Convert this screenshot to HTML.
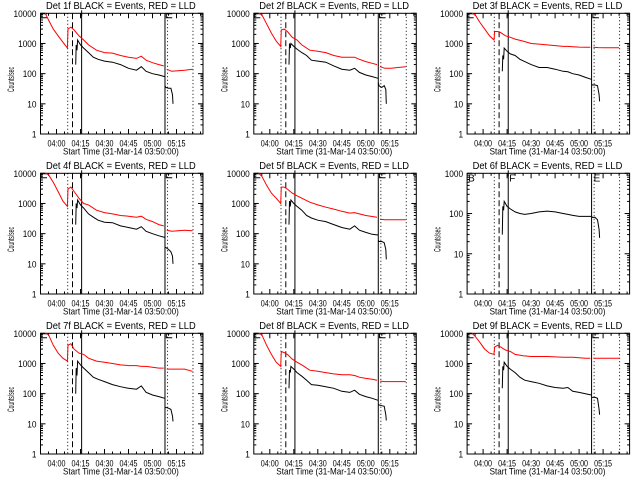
<!DOCTYPE html>
<html><head><meta charset="utf-8"><style>
html,body{margin:0;padding:0;background:#fff;}
svg{display:block;font-family:"Liberation Sans",sans-serif;}
</style></head><body>
<svg id="chart" width="640" height="480" viewBox="0 0 640 480" xmlns="http://www.w3.org/2000/svg"></svg>
<script>
// minutes after 03:50 (null = data gap)
const redTimes = [3,5,8,11,14,16.8,17.2,19,21,24,27,30,35,40,45,50,55,60,63,66,70,74,77,null,78.9,82,86,90,95];
const blackTimes = [22,22.3,22.8,23.2,25,27,30,33,36,40,45,50,55,60,63,66,70,74,77.6,null,77.9,78.2,80,81.5,82.5,82.8];
const detNames = ["1f","2f","3f","4f","5f","6f","7f","8f","9f"];
const red1 = [10000,6000,3000,1800,1100,700,3000,3500,2800,1800,1300,900,600,500,480,400,350,320,380,280,230,200,180,null,140,120,125,130,140];
const red2 = [10000,9000,4500,2200,1200,800,2800,3000,2500,1600,1300,900,600,550,500,400,350,350,350,300,250,220,200,null,170,150,150,160,170];
const red3 = [10000,9000,5000,3000,1800,1300,2500,2500,2300,1800,1600,1400,1200,1000,950,900,850,800,800,780,760,750,750,null,750,730,720,720,720];
const red4 = [10000,9000,5000,2500,1200,800,3000,3500,2500,1500,1000,900,600,500,450,400,380,350,380,300,250,200,180,null,130,120,125,130,125];
const red5 = [10000,8000,4000,2200,1500,1000,3500,3500,3000,2200,1800,1500,1100,900,750,650,550,480,500,450,400,370,350,null,300,290,290,290,290];
const red6 = null;
const red7 = [10000,9000,4000,2200,1500,1200,4000,4500,3000,2200,2000,1500,1200,1100,1000,900,850,850,800,800,750,700,700,null,650,650,650,650,550];
const red8 = [10000,9000,4000,2000,1100,800,2500,2300,2000,1400,1100,900,600,550,500,450,420,420,400,350,320,300,280,null,260,250,250,250,250];
const red9 = [10000,8000,5000,3000,2200,2000,3500,4000,3500,2800,2500,2000,1800,1700,1700,1700,1650,1600,1600,1600,1550,1500,1500,null,1500,1500,1500,1500,1500];
const black1 = [200,900,600,1300,900,700,500,350,300,260,240,200,150,130,170,120,100,90,80,null,40,35,33,33,20,10];
const black2 = [200,1000,700,1000,800,650,500,400,280,260,240,180,140,130,150,110,90,80,70,null,50,40,35,40,30,10];
const black3 = [120,400,300,700,550,450,400,300,250,200,160,160,140,120,115,100,90,75,65,null,45,42,42,40,20,12];
const black4 = [200,1000,700,1300,900,700,450,350,280,240,230,180,160,140,170,120,100,85,75,null,35,35,30,25,18,10];
const black5 = [200,1200,800,1300,1000,800,600,400,330,280,250,200,160,140,180,130,110,95,90,null,60,55,55,50,30,14];
const black6 = [30,150,120,200,150,130,110,100,95,100,110,115,110,100,95,90,85,85,85,null,85,80,80,70,40,25];
const black7 = [100,700,400,1200,900,700,500,350,300,250,200,170,150,140,180,110,90,80,70,null,35,35,33,30,18,12];
const black8 = [150,600,500,800,650,500,380,280,200,190,170,150,120,110,130,95,80,70,60,null,45,42,40,38,20,13];
const black9 = [150,800,600,1100,800,650,500,350,280,250,220,180,160,150,160,120,110,100,90,null,75,75,75,70,30,20];
const redSeries = [red1,red2,red3,red4,red5,red6,red7,red8,red9];
const blackSeries = [black1,black2,black3,black4,black5,black6,black7,black8,black9];
const xTickLabels = ["04:00","04:15","04:30","04:45","05:00","05:15"];
const xTickMinutes = [10,25,40,55,70,85];
const yTickLabels = ["1","10","100","1000","10000"];
const yTickLabels6 = ["1","10","100","1000"];
const markerMinutes = [17,20,25.7,77.8,79.4,95.3];

const NS="http://www.w3.org/2000/svg";
const svg=document.getElementById('chart');
function mk(tag,attrs,parent){const e=document.createElementNS(NS,tag);for(const k in attrs)e.setAttribute(k,attrs[k]);(parent||svg).appendChild(e);return e;}
// place text so that it spans [x, x+w] horizontally with baseline y (rotation optional)
function fitText(g,str,x,y,w,size,rot){
  const t=mk('text',{x:0,y:0,'font-size':size},g);
  t.textContent=str;
  let nat=t.getComputedTextLength();if(!nat)nat=str.length*size*0.55;
  const sx=w/nat;
  t.setAttribute('transform',rot?`translate(${x},${y}) rotate(-90) scale(${sx.toFixed(3)},1)`:`translate(${x},${y}) scale(${sx.toFixed(3)},1)`);
  return t;
}
const L=40.5,R=203,T=13.3,B=134;
function xs(m){return L+m*1.6;}

for(let p=0;p<9;p++){
  const col=p%3,row=Math.floor(p/3);
  const g=mk('g',{transform:`translate(${(col*213.3).toFixed(1)},${row*160})`});
  
  
  const decades = p===5?3:4;
  const ys=v=>B-(Math.log10(v))*(B-T)/decades;
  const fr=mk('rect',{x:L,y:T,width:R-L,height:B-T,fill:'none',stroke:'#000','stroke-width':1},g);
  
  
  const labs=p===5?yTickLabels6:yTickLabels;
  for(let d=0;d<=decades;d++){
    const y=ys(Math.pow(10,d));
    mk('line',{x1:L,x2:L+5,y1:y,y2:y,stroke:'#000'},g);
    mk('line',{x1:R-5,x2:R,y1:y,y2:y,stroke:'#000'},g);
    const s=labs[d];
    const t=fitText(g,s,36.5-s.length*4.6,y+3.5,s.length*4.6,9,false);
    
    
    if(d<decades){for(let k=2;k<10;k++){const yy=ys(Math.pow(10,d)*k);
      mk('line',{x1:L,x2:L+2.5,y1:yy,y2:yy,stroke:'#000'},g);
      mk('line',{x1:R-2.5,x2:R,y1:yy,y2:yy,stroke:'#000'},g);}}
  }
  for(let m=5;m<=100;m+=5){const x=xs(m);const len=(xTickMinutes.includes(m))?5:2.5;
    mk('line',{x1:x,x2:x,y1:B,y2:B-len,stroke:'#000'},g);
    mk('line',{x1:x,x2:x,y1:T,y2:T+len,stroke:'#000'},g);}
  xTickMinutes.forEach((m,i)=>{const t=fitText(g,xTickLabels[i],xs(m)-9,146.5,18,9,false);
    
    });
  const tt=fitText(g,'Det '+detNames[p]+' BLACK = Events, RED = LLD',46,9,150,10,false);
  
  
  const xt=fitText(g,'Start Time (31-Mar-14 03:50:00)',63,154.5,116,9.5,false);
  
  
  const yt=fitText(g,'Counts/sec',14,92,25,9,true);
  
  
  const styles=['1,2.5','6,3',null,null,'1,2.5','1,2.5'];
  markerMinutes.forEach((m,i)=>{const a={x1:xs(m),x2:xs(m),y1:T,y2:B,stroke:'#000','stroke-width':1};
    if(styles[i])a['stroke-dasharray']=styles[i];
    const ln=mk('line',a,g);
    
    });
  mk('line',{x1:xs(25.7),x2:xs(25.7),y1:T-3,y2:T+3,stroke:'#000','stroke-width':1},g);
  if(p===5){
    [['B',L+1],['F',xs(25.7)+1],['E',xs(77.8)+2]].forEach(([s,x])=>{const t=mk('text',{x:x,y:T+8,'font-size':10},g);t.textContent=s;
      
      });
  } else {
    [L+0.5,xs(78.6)].forEach(x=>{const pth=mk('path',{d:`M${x+6},${T+0.5} H${x} V${T+4.5} H${x+6}`,fill:'none',stroke:'#000'},g);
      
      });
  }
  function draw(times,vals,color,name){
    if(!vals)return;let d='',pen=false;
    for(let i=0;i<times.length;i++){
      if(times[i]===null||vals[i]===null){pen=false;continue;}
      const y=Math.max(T,ys(vals[i]));
      d+=(pen?'L':'M')+xs(times[i]).toFixed(1)+','+y.toFixed(1);pen=true;}
    const ph=mk('path',{d:d,fill:'none',stroke:color,'stroke-width':1},g);
    
    
  }
  draw(redTimes,redSeries[p],'#ff0000','lld-series');
  draw(blackTimes,blackSeries[p],'#000000','events-series');
}
</script>
</body></html>
